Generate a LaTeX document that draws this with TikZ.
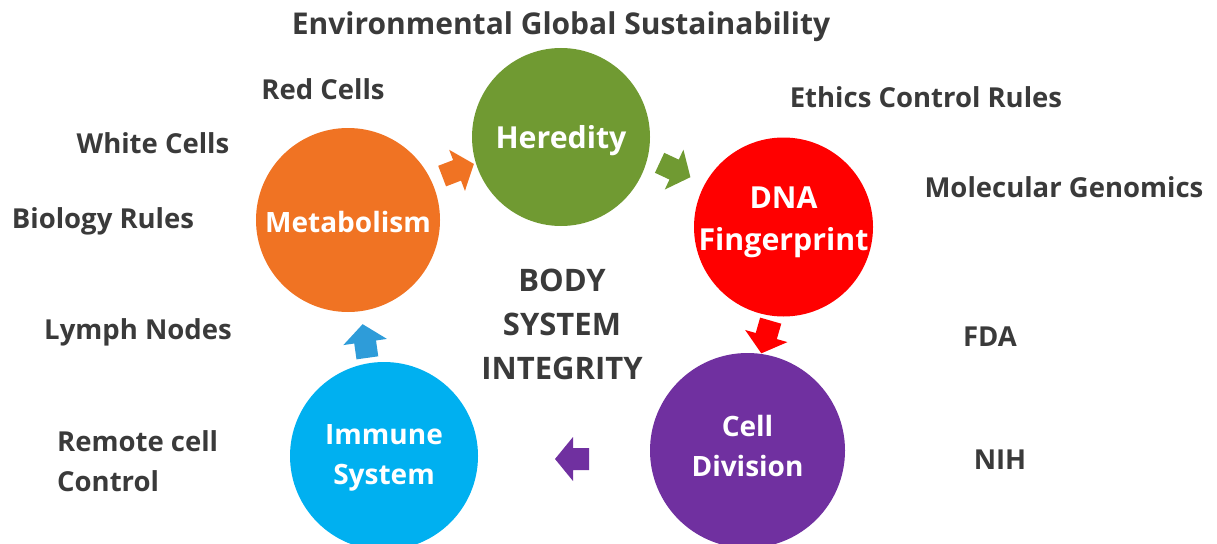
\documentclass[tikz,border=0pt]{standalone}
\usepackage{fontspec}
\setmainfont{Open Sans}
\definecolor{cgreen}{HTML}{709A32}
\definecolor{corange}{HTML}{F07323}
\definecolor{cred}{HTML}{FF0000}
\definecolor{cpurple}{HTML}{7030A0}
\definecolor{cblue}{HTML}{00B0F0}
\definecolor{ablue}{HTML}{2E9CD9}
\definecolor{tgray}{HTML}{3A3A3A}
\tikzset{
  blob/.style={circle, inner sep=0pt, minimum size=#1},
  blobtext/.style={text=white, font=\fontsize{28}{40}\selectfont\bfseries, align=center, inner sep=0pt},
  bigblobtext/.style={blobtext, font=\fontsize{30.3}{42}\selectfont\bfseries},
  lbl/.style={text=tgray, font=\fontsize{27.5}{40}\selectfont\bfseries, inner sep=0pt},
  pics/blockarrow/.style={code={
    \fill[#1] (-17,-11) -- (-1,-11) -- (-1,-22) -- (17,0) -- (-1,22) -- (-1,11) -- (-17,11) -- cycle;
  }}
}
\begin{document}
\begin{tikzpicture}[x=1pt,y=-1pt]
\useasboundingbox (0,0) rectangle (1217,543);
\clip (0,0) rectangle (1217,543);
% circles
\node[blob=178pt, fill=cgreen] (her) at (561,137) {};
\node[blob=179pt, fill=cred] (dna) at (783.5,227) {};
\node[blob=184pt, fill=corange] (met) at (348,220) {};
\node[blob=188pt, fill=cblue] (imm) at (384,456) {};
\node[blob=195pt, fill=cpurple] (cel) at (747.5,450.5) {};
\node[bigblobtext] (hert) at ([yshift=-4pt]her.center) {Heredity};
\node[bigblobtext] (dnat) at ([yshift=5pt]dna.center) {DNA\\Fingerprint};
\node[blobtext] (mett) at ([yshift=-2pt]met.center) {Metabolism};
\node[blobtext] (immt) at ([yshift=-2pt]imm.center) {Immune\\System};
\node[blobtext] (celt) at ([yshift=5pt]cel.center) {Cell\\Division};
% block arrows
\coordinate (a1) at (458,170);
\coordinate (a2) at (675,170);
\coordinate (a3) at (766,337);
\coordinate (a4) at (572,459);
\coordinate (a5) at (365,341);
\pic[rotate=21] at (a1) {blockarrow=corange};
\pic[rotate=-25] at (a2) {blockarrow=cgreen};
\pic[rotate=-106] at (a3) {blockarrow=cred};
\pic[rotate=180] at (a4) {blockarrow=cpurple};
\pic[rotate=98] at (a5) {blockarrow=ablue};
% labels
\node[lbl, font=\fontsize{30}{40}\selectfont\bfseries] (title) at (561,27) {Environmental Global Sustainability};
\node[lbl] (red) at (323,89) {Red Cells};
\node[lbl] (white) at (153,143) {White Cells};
\node[lbl] (bio) at (103,221) {Biology Rules};
\node[lbl] (lymph) at (138,332) {Lymph Nodes};
\node[lbl, align=left, anchor=west] (remote) at (57,461) {Remote cell\\Control};
\node[lbl] (ethics) at (926,97) {Ethics Control Rules};
\node[lbl] (mol) at (1064,187) {Molecular Genomics};
\node[lbl] (fda) at (990,337) {FDA};
\node[lbl] (nih) at (1000,460) {NIH};
\node[lbl, align=center, font=\fontsize{31}{44}\selectfont\bfseries] (body) at (562,324) {BODY\\SYSTEM\\INTEGRITY};
\end{tikzpicture}
\end{document}
